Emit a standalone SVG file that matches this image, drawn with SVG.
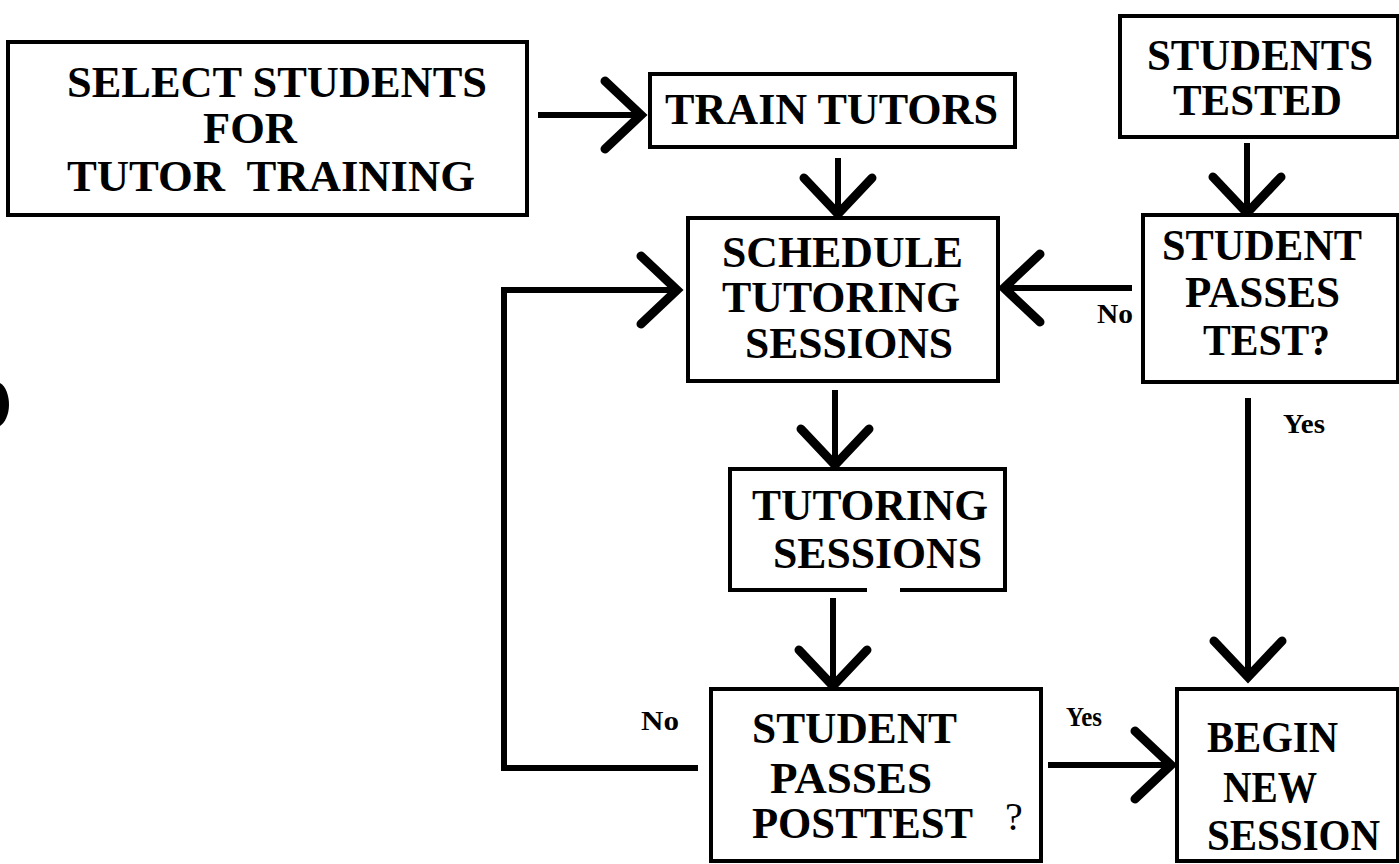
<svg xmlns="http://www.w3.org/2000/svg" width="1399" height="864" viewBox="0 0 1399 864">
<style>
  .box { fill: #fff; stroke: #000; stroke-width: 4; }
  .t { font-family: "Liberation Serif", "Times New Roman", serif; font-weight: bold; font-size: 44px; fill: #000; }
  .lbl { font-family: "Liberation Serif", "Times New Roman", serif; font-weight: bold; font-size: 27px; fill: #000; }
  .q { font-family: "Liberation Serif", "Times New Roman", serif; font-size: 40px; fill: #000; }
  .c { fill: none; stroke: #000; stroke-width: 6; }
</style>
<defs>
  <marker id="chev" markerUnits="userSpaceOnUse" markerWidth="90" markerHeight="90" viewBox="-45 -45 90 90" refX="0" refY="0" orient="auto" overflow="visible">
    <path d="M-36,-34 L0,0 L-36,34" fill="none" stroke="#000" stroke-width="9" stroke-linecap="round" stroke-linejoin="miter"/>
  </marker>
</defs>
<rect width="1399" height="864" fill="#fff"/>

<g id="connectors">
  <path class="c" d="M538,115 H641" marker-end="url(#chev)"/>
  <path class="c" d="M838,158 V214" marker-end="url(#chev)"/>
  <path class="c" d="M1247,143 V213" marker-end="url(#chev)"/>
  <path class="c" d="M1132,288 H1004" marker-end="url(#chev)"/>
  <path class="c" d="M835,390 V465" marker-end="url(#chev)"/>
  <path class="c" d="M833,598 V686" marker-end="url(#chev)"/>
  <path class="c" d="M1048,765 H1171" marker-end="url(#chev)"/>
  <path class="c" d="M1248,398 V677" marker-end="url(#chev)"/>
  <path class="c" d="M698,768 H504 V290 H677" marker-end="url(#chev)"/>
  <text class="lbl" x="1097" y="323" textLength="36" lengthAdjust="spacingAndGlyphs">No</text>
  <text class="lbl" x="1283" y="433" textLength="42" lengthAdjust="spacingAndGlyphs">Yes</text>
  <text class="lbl" x="641" y="730" textLength="38" lengthAdjust="spacingAndGlyphs">No</text>
  <text class="lbl" x="1066" y="726" textLength="36" lengthAdjust="spacingAndGlyphs">Yes</text>
</g>

<g id="select-students">
  <rect class="box" x="8" y="42" width="519" height="173"/>
  <text class="t" x="67" y="97" font-size="46" textLength="420" lengthAdjust="spacingAndGlyphs">SELECT STUDENTS</text>
  <text class="t" x="203" y="143" font-size="46" textLength="94" lengthAdjust="spacingAndGlyphs">FOR</text>
  <text class="t" x="67" y="191" font-size="46" textLength="408" lengthAdjust="spacingAndGlyphs">TUTOR&#160; TRAINING</text>
</g>

<g id="train-tutors">
  <rect class="box" x="650" y="74" width="365" height="73"/>
  <text class="t" x="665" y="124" textLength="333" lengthAdjust="spacingAndGlyphs">TRAIN TUTORS</text>
</g>

<g id="students-tested">
  <rect class="box" x="1120" y="16" width="278" height="121"/>
  <text class="t" x="1147" y="70" font-size="42" textLength="226" lengthAdjust="spacingAndGlyphs">STUDENTS</text>
  <text class="t" x="1173" y="115" font-size="42" textLength="169" lengthAdjust="spacingAndGlyphs">TESTED</text>
</g>

<g id="schedule">
  <rect class="box" x="688" y="218" width="310" height="163"/>
  <text class="t" x="722" y="267" textLength="241" lengthAdjust="spacingAndGlyphs">SCHEDULE</text>
  <text class="t" x="722" y="312" textLength="238" lengthAdjust="spacingAndGlyphs">TUTORING</text>
  <text class="t" x="745" y="358" textLength="208" lengthAdjust="spacingAndGlyphs">SESSIONS</text>
</g>

<g id="student-passes-test">
  <rect class="box" x="1143" y="215" width="255" height="167"/>
  <text class="t" x="1162" y="260" textLength="200" lengthAdjust="spacingAndGlyphs">STUDENT</text>
  <text class="t" x="1185" y="307" textLength="155" lengthAdjust="spacingAndGlyphs">PASSES</text>
  <text class="t" x="1203" y="355" textLength="127" lengthAdjust="spacingAndGlyphs">TEST?</text>
</g>

<g id="tutoring-sessions">
  <path class="box" d="M867,590 H730 V469 H1005 V590 H900"/>
  <text class="t" x="752" y="520" textLength="236" lengthAdjust="spacingAndGlyphs">TUTORING</text>
  <text class="t" x="773" y="568" textLength="209" lengthAdjust="spacingAndGlyphs">SESSIONS</text>
</g>

<g id="student-passes-posttest">
  <rect class="box" x="711" y="689" width="330" height="172"/>
  <text class="t" x="752" y="743" textLength="205" lengthAdjust="spacingAndGlyphs">STUDENT</text>
  <text class="t" x="770" y="793" textLength="162" lengthAdjust="spacingAndGlyphs">PASSES</text>
  <text class="t" x="752" y="838" textLength="221" lengthAdjust="spacingAndGlyphs">POSTTEST</text>
  <text class="q" x="1005" y="830">?</text>
</g>

<g id="begin-new-session">
  <rect class="box" x="1177" y="689" width="221" height="172"/>
  <text class="t" x="1207" y="752" textLength="131" lengthAdjust="spacingAndGlyphs">BEGIN</text>
  <text class="t" x="1223" y="802" textLength="94" lengthAdjust="spacingAndGlyphs">NEW</text>
  <text class="t" x="1207" y="850" textLength="173" lengthAdjust="spacingAndGlyphs">SESSION</text>
</g>

<path d="M0,383 C6,386 9,396 9,405 C9,414 5,423 0,426 Z" fill="#000"/>
</svg>
